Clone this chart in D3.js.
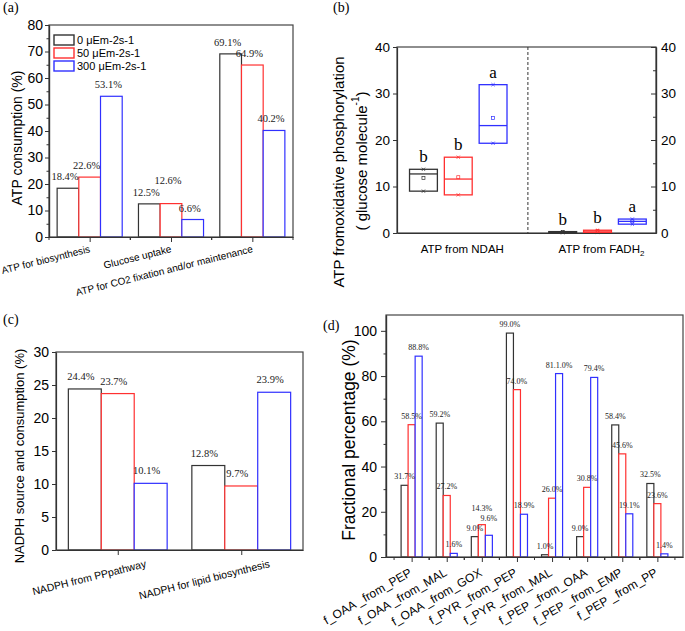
<!DOCTYPE html>
<html><head><meta charset="utf-8">
<script src="https://cdn.jsdelivr.net/npm/d3@7"></script>
<style>body{margin:0;background:#fff}svg{display:block}</style>
</head><body>
<svg id="chart" width="685" height="631"></svg>
<script>
// ================= DATA =================
const seriesNames = ["0 μEm-2s-1", "50 μEm-2s-1", "300 μEm-2s-1"];

// (a) ATP consumption (%)
const atpCategories = ["ATP for biosynthesis", "Glucose uptake", "ATP for CO2 fixation and/or maintenance"];
const atp0 = [18.4, 12.5, 69.1];
const atp50 = [22.6, 12.6, 64.9];
const atp300 = [53.1, 6.6, 40.2];
const atpTicks = [0, 10, 20, 30, 40, 50, 60, 70, 80];

// (b) ATP from oxidative phosphorylation (box summaries)
const oxCategories = ["ATP from NDAH", "ATP from FADH"];
const oxLow0 = [9.0, 0.05], oxHigh0 = [13.7, 0.3], oxMedian0 = [12.7, 0.2], oxMean0 = [11.8, 0.2];
const oxLow50 = [8.2, 0.1], oxHigh50 = [16.3, 0.6], oxMedian50 = [11.6, 0.4], oxMean50 = [12.0, 0.4];
const oxLow300 = [19.3, 1.9], oxHigh300 = [31.9, 3.0], oxMedian300 = [23.1, 2.5], oxMean300 = [24.7, 2.5];
const oxLetters0 = ["b", "b"], oxLetters50 = ["b", "b"], oxLetters300 = ["a", "a"];
const oxTicks = [0, 10, 20, 30, 40];

// (c) NADPH source and consumption (%)
const nadphCategories = ["NADPH from PPpathway", "NADPH for lipid biosynthesis"];
const nadph0 = [24.4, 12.8];
const nadph50 = [23.7, 9.7];
const nadph300 = [10.1, 23.9];
const nadphTicks = [0, 5, 10, 15, 20, 25, 30];

// (d) Fractional percentage (%)
const fracCategories = ["f_OAA _from_PEP", "f_OAA _from_MAL", "f_OAA _from_GOX", "f_PYR _from_PEP",
  "f_PYR _from_MAL", "f_PEP _from_OAA", "f_PEP _from_EMP", "f_PEP _from_PP"];
const frac0 = [31.7, 59.2, 9.0, 99.0, 1.0, 9.0, 58.4, 32.5];
const frac50 = [58.5, 27.2, 14.3, 74.0, 26.0, 30.8, 45.6, 23.6];
const frac300 = [88.8, 1.6, 9.6, 18.9, 81.1, 79.4, 19.1, 1.4];
const fracText300 = ["88.8%", "1.6%", "9.6%", "18.9%", "81.1.0%", "79.4%", "19.1%", "1.4%"];
const fracTicks = [0, 20, 40, 60, 80, 100];

// ================= STYLE =================
const SANS = "'Liberation Sans', Arial, sans-serif";
const SERIF = "'Liberation Serif', 'Times New Roman', serif";
const colors = ["#333333", "#ff3030", "#3030ff"];
const fmt = d => d3.format(".1f")(d) + "%";
const svg = d3.select("#chart");

function styleAxis(sel, size) {
  sel.select(".domain").attr("stroke", "#333").attr("stroke-width", 1.2);
  sel.selectAll(".tick line").attr("stroke", "#333").attr("stroke-width", 1);
  sel.selectAll(".tick text").attr("font-family", SANS).attr("font-size", size).attr("fill", "#000");
}

function panelTitle(t, x, y) {
  svg.append("text").attr("x", x).attr("y", y).attr("font-family", SERIF)
    .attr("font-size", 14).text(t);
}

// lift overlapping value labels: the higher one moves up
function declutter(nodes) {
  for (let iter = 0; iter < 6; iter++) {
    let moved = false;
    for (let a = 0; a < nodes.length; a++) {
      for (let b = a + 1; b < nodes.length; b++) {
        const A = nodes[a].getBBox(), B = nodes[b].getBBox();
        const ox = A.x < B.x + B.width && B.x < A.x + A.width;
        const oy = A.y < B.y + B.height && B.y < A.y + A.height;
        if (ox && oy) {
          const [hi, lo, H, L] = A.y <= B.y ? [nodes[a], nodes[b], A, B] : [nodes[b], nodes[a], B, A];
          const shift = (H.y + H.height) - L.y + 1;
          hi.setAttribute("y", +hi.getAttribute("y") - shift);
          moved = true;
        }
      }
    }
    if (!moved) break;
  }
}

function drawBarPanel(p) {
  const g = svg.append("g");
  const x = d3.scalePoint().domain(p.cats).range([p.left, p.right]).padding(p.pad);
  const step = x.step();
  const n = p.series.length;
  const bw = step * p.groupFrac / n;
  const y = d3.scaleLinear().domain([0, p.yMax]).range([p.bottom, p.top]);

  p.series.forEach((vals, si) => {
    const off = (si - n / 2) * bw;
    g.append("g").selectAll("rect").data(vals).join("rect")
      .attr("x", (d, i) => x(p.cats[i]) + off)
      .attr("y", d => y(d))
      .attr("width", bw)
      .attr("height", d => y(0) - y(d))
      .attr("fill", "#fff")
      .attr("stroke", colors[si])
      .attr("stroke-width", 1.2);
  });
  const labelNodes = [];
  p.series.forEach((vals, si) => {
    const off = (si - n / 2) * bw;
    g.append("g").selectAll("text").data(vals).join("text")
      .attr("x", (d, i) => x(p.cats[i]) + off + bw / 2 + p.valDx)
      .attr("y", d => y(d) - p.valDy)
      .attr("text-anchor", "middle")
      .attr("font-family", SERIF).attr("font-size", p.valSize).attr("fill", "#222")
      .text((d, i) => p.texts && p.texts[si] ? p.texts[si][i] : fmt(d))
      .each(function () { labelNodes.push(this); });
  });
  declutter(labelNodes);

  // frame
  g.append("rect").attr("x", p.left).attr("y", p.top)
    .attr("width", p.right - p.left).attr("height", p.bottom - p.top)
    .attr("fill", "none").attr("stroke", "#444").attr("stroke-width", 1.2);

  // y axis
  const ya = g.append("g").attr("transform", `translate(${p.left},0)`)
    .call(d3.axisLeft(y).tickValues(p.ticks).tickSize(p.tickLen).tickSizeOuter(0).tickPadding(p.tickPad));
  styleAxis(ya, p.tickFont);
  if (p.minorY) {
    const ym = g.append("g").attr("transform", `translate(${p.left},0)`)
      .call(d3.axisLeft(y).tickValues(p.minorY).tickSize(2.5).tickSizeOuter(0).tickFormat(""));
    styleAxis(ym, p.tickFont);
  }
  // x axis
  const xa = g.append("g").attr("transform", `translate(0,${p.bottom})`)
    .call(d3.axisBottom(x).tickSize(5).tickSizeOuter(0).tickFormat(""));
  styleAxis(xa, p.tickFont);
  if (p.minorX) {
    const mids = p.cats.flatMap(c => [x(c) - step / 2, x(c) + step / 2]);
    g.append("g").selectAll("line").data(mids).join("line")
      .attr("x1", d => d).attr("x2", d => d)
      .attr("y1", p.bottom).attr("y2", p.bottom + 3)
      .attr("stroke", "#333").attr("stroke-width", 1);
  }
  g.append("g").selectAll("text").data(p.cats).join("text")
    .attr("transform", d => `translate(${x(d) + p.xdx},${p.bottom + p.xdy}) rotate(${-p.xRot})`)
    .attr("text-anchor", "end")
    .attr("font-family", SANS).attr("font-size", p.xFont).attr("fill", "#000")
    .text(d => d);

  // y label
  g.append("text")
    .attr("transform", `translate(${p.yLabelX},${p.yLabelY}) rotate(-90)`)
    .attr("text-anchor", "middle").attr("dominant-baseline", "central")
    .attr("font-family", SANS).attr("font-size", p.yLabelFont)
    .text(p.yLabel);
  return { g, x, y };
}

// ================= PANEL (a) =================
panelTitle("(a)", 3, 12);
const pa = drawBarPanel({
  cats: atpCategories, series: [atp0, atp50, atp300],
  left: 49, right: 293, top: 25, bottom: 237, pad: 0.5, groupFrac: 0.8,
  yMax: 80, ticks: atpTicks, minorY: d3.range(5, 80, 10), tickLen: 4, tickPad: 2, tickFont: 14,
  minorX: true, xRot: 14, xdx: 1, xdy: 15, xFont: 10,
  valDx: -3, valDy: 8, valSize: 10.5,
  yLabel: "ATP consumption (%)", yLabelX: 17, yLabelY: 138, yLabelFont: 14
});
// legend
const leg = pa.g.append("g");
seriesNames.forEach((s, i) => {
  leg.append("rect").attr("x", 54).attr("y", 35 + i * 13).attr("width", 20).attr("height", 10)
    .attr("fill", "#fff").attr("stroke", colors[i]).attr("stroke-width", 1.4);
  leg.append("text").attr("x", 77).attr("y", 40 + i * 13).attr("dominant-baseline", "central")
    .attr("font-family", SANS).attr("font-size", 11).text(s);
});

// ================= PANEL (b) =================
panelTitle("(b)", 333, 12);
(function () {
  const g = svg.append("g");
  const left = 397, right = 656, top = 47, bottom = 233;
  const x = d3.scaleLinear().domain([0.56, 2.42]).range([left, right]);
  const y = d3.scaleLinear().domain([0, 40]).range([bottom, top]);
  const lows = [oxLow0, oxLow50, oxLow300], highs = [oxHigh0, oxHigh50, oxHigh300];
  const meds = [oxMedian0, oxMedian50, oxMedian300], means = [oxMean0, oxMean50, oxMean300];
  const letters = [oxLetters0, oxLetters50, oxLetters300];
  const bwU = 0.2, offU = 0.25;
  const bwPx = x(bwU) - x(0);

  g.append("rect").attr("x", left).attr("y", top).attr("width", right - left).attr("height", bottom - top)
    .attr("fill", "none").attr("stroke", "#444").attr("stroke-width", 1.2);
  g.append("line").attr("x1", x(1.5)).attr("x2", x(1.5)).attr("y1", top).attr("y2", bottom)
    .attr("stroke", "#333").attr("stroke-width", 1).attr("stroke-dasharray", "3,2");

  [0, 1, 2].forEach(si => {
    const c = colors[si];
    const cx = i => x(i + 1 + (si - 1) * offU);
    const bg = g.append("g");
    const items = oxCategories.map((cat, i) => i);
    bg.selectAll("rect.box").data(items).join("rect").attr("class", "box")
      .attr("x", i => cx(i) - bwPx / 2)
      .attr("y", i => y(highs[si][i]))
      .attr("width", bwPx)
      .attr("height", i => y(lows[si][i]) - y(highs[si][i]))
      .attr("fill", "none")
      .attr("stroke", c).attr("stroke-width", 1.3);
    bg.selectAll("line.med").data(items).join("line").attr("class", "med")
      .attr("x1", i => cx(i) - bwPx / 2)
      .attr("x2", i => cx(i) + bwPx / 2)
      .attr("y1", i => y(meds[si][i])).attr("y2", i => y(meds[si][i]))
      .attr("stroke", c).attr("stroke-width", 1.3);
    bg.selectAll("rect.mean").data(items).join("rect").attr("class", "mean")
      .attr("x", i => cx(i) - 1.5).attr("y", i => y(means[si][i]) - 1.5)
      .attr("width", 3).attr("height", 3)
      .attr("fill", "none").attr("stroke", c).attr("stroke-width", 0.7);
    const marks = items.flatMap(i => [{ i, v: lows[si][i] }, { i, v: highs[si][i] }]);
    bg.selectAll("path.mk").data(marks).join("path").attr("class", "mk")
      .attr("d", m => { const px = cx(m.i), py = y(m.v); return `M${px - 1.6},${py - 1.6}L${px + 1.6},${py + 1.6}M${px - 1.6},${py + 1.6}L${px + 1.6},${py - 1.6}`; })
      .attr("stroke", c).attr("stroke-width", 0.8).attr("fill", "none");
    bg.selectAll("text.let").data(items).join("text").attr("class", "let")
      .attr("x", i => cx(i)).attr("y", i => y(highs[si][i]) - 7)
      .attr("text-anchor", "middle").attr("font-family", SERIF).attr("font-size", 17)
      .text(i => letters[si][i]);
  });

  const ya = g.append("g").attr("transform", `translate(${left},0)`)
    .call(d3.axisLeft(y).tickValues(oxTicks).tickSize(4).tickSizeOuter(0).tickPadding(3));
  styleAxis(ya, 13.5);
  const yr = g.append("g").attr("transform", `translate(${right},0)`)
    .call(d3.axisRight(y).tickValues(oxTicks).tickSize(-5).tickSizeOuter(0).tickPadding(5));
  styleAxis(yr, 13.5);
  const yrm = g.append("g").attr("transform", `translate(${right},0)`)
    .call(d3.axisRight(y).tickValues(d3.range(5, 40, 10)).tickSize(-3).tickSizeOuter(0).tickFormat(""));
  styleAxis(yrm, 13.5);
  const xb = g.append("g").attr("transform", `translate(0,${bottom})`)
    .call(d3.axisBottom(x).tickValues([]).tickSizeOuter(0));
  styleAxis(xb, 12);

  g.selectAll("text.xl").data(oxCategories).join("text").attr("class", "xl")
    .attr("x", (d, i) => x(i + 1) + 4).attr("y", bottom + 20)
    .attr("text-anchor", "middle").attr("font-family", SANS).attr("font-size", 11.5)
    .each(function (d, i) {
      const t = d3.select(this);
      t.append("tspan").text(d);
      if (i === 1) t.append("tspan").attr("font-size", 8).attr("dy", 3).text("2");
    });

  g.append("text").attr("transform", `translate(338,172) rotate(-90)`)
    .attr("text-anchor", "middle").attr("dominant-baseline", "central")
    .attr("font-family", SANS).attr("font-size", 15)
    .text("ATP fromoxidative phosphorylation");
  const l2 = g.append("text").attr("transform", `translate(361,161) rotate(-90)`)
    .attr("text-anchor", "middle").attr("dominant-baseline", "central")
    .attr("font-family", SANS).attr("font-size", 15);
  l2.append("tspan").text("( glucose molecule");
  l2.append("tspan").attr("font-size", 10).attr("dy", -6).text("-1");
  l2.append("tspan").attr("dy", 6).text(")");
})();

// ================= PANEL (c) =================
panelTitle("(c)", 3, 324);
drawBarPanel({
  cats: nadphCategories, series: [nadph0, nadph50, nadph300],
  left: 56, right: 303, top: 352, bottom: 550, pad: 0.5, groupFrac: 0.8,
  yMax: 30, ticks: nadphTicks, minorY: null, tickLen: 4, tickPad: 3, tickFont: 14,
  minorX: false, xRot: 14, xdx: 29, xdy: 17, xFont: 10.5,
  valDx: -4, valDy: 9, valSize: 10.5,
  yLabel: "NADPH source and consumption (%)", yLabelX: 19, yLabelY: 456, yLabelFont: 13
});

// ================= PANEL (d) =================
panelTitle("(d)", 323, 330);
drawBarPanel({
  cats: fracCategories, series: [frac0, frac50, frac300],
  texts: [null, null, fracText300],
  left: 386, right: 683, top: 315, bottom: 557, pad: 0.73, groupFrac: 0.6,
  yMax: 107, ticks: fracTicks, minorY: d3.range(10, 107, 20), tickLen: 5, tickPad: 4, tickFont: 14,
  minorX: true, xRot: 30, xdx: 1, xdy: 18, xFont: 12,
  valDx: 0, valDy: 6, valSize: 8,
  yLabel: "Fractional percentage (%)", yLabelX: 349, yLabelY: 440, yLabelFont: 17.5
});
</script>
</body></html>
